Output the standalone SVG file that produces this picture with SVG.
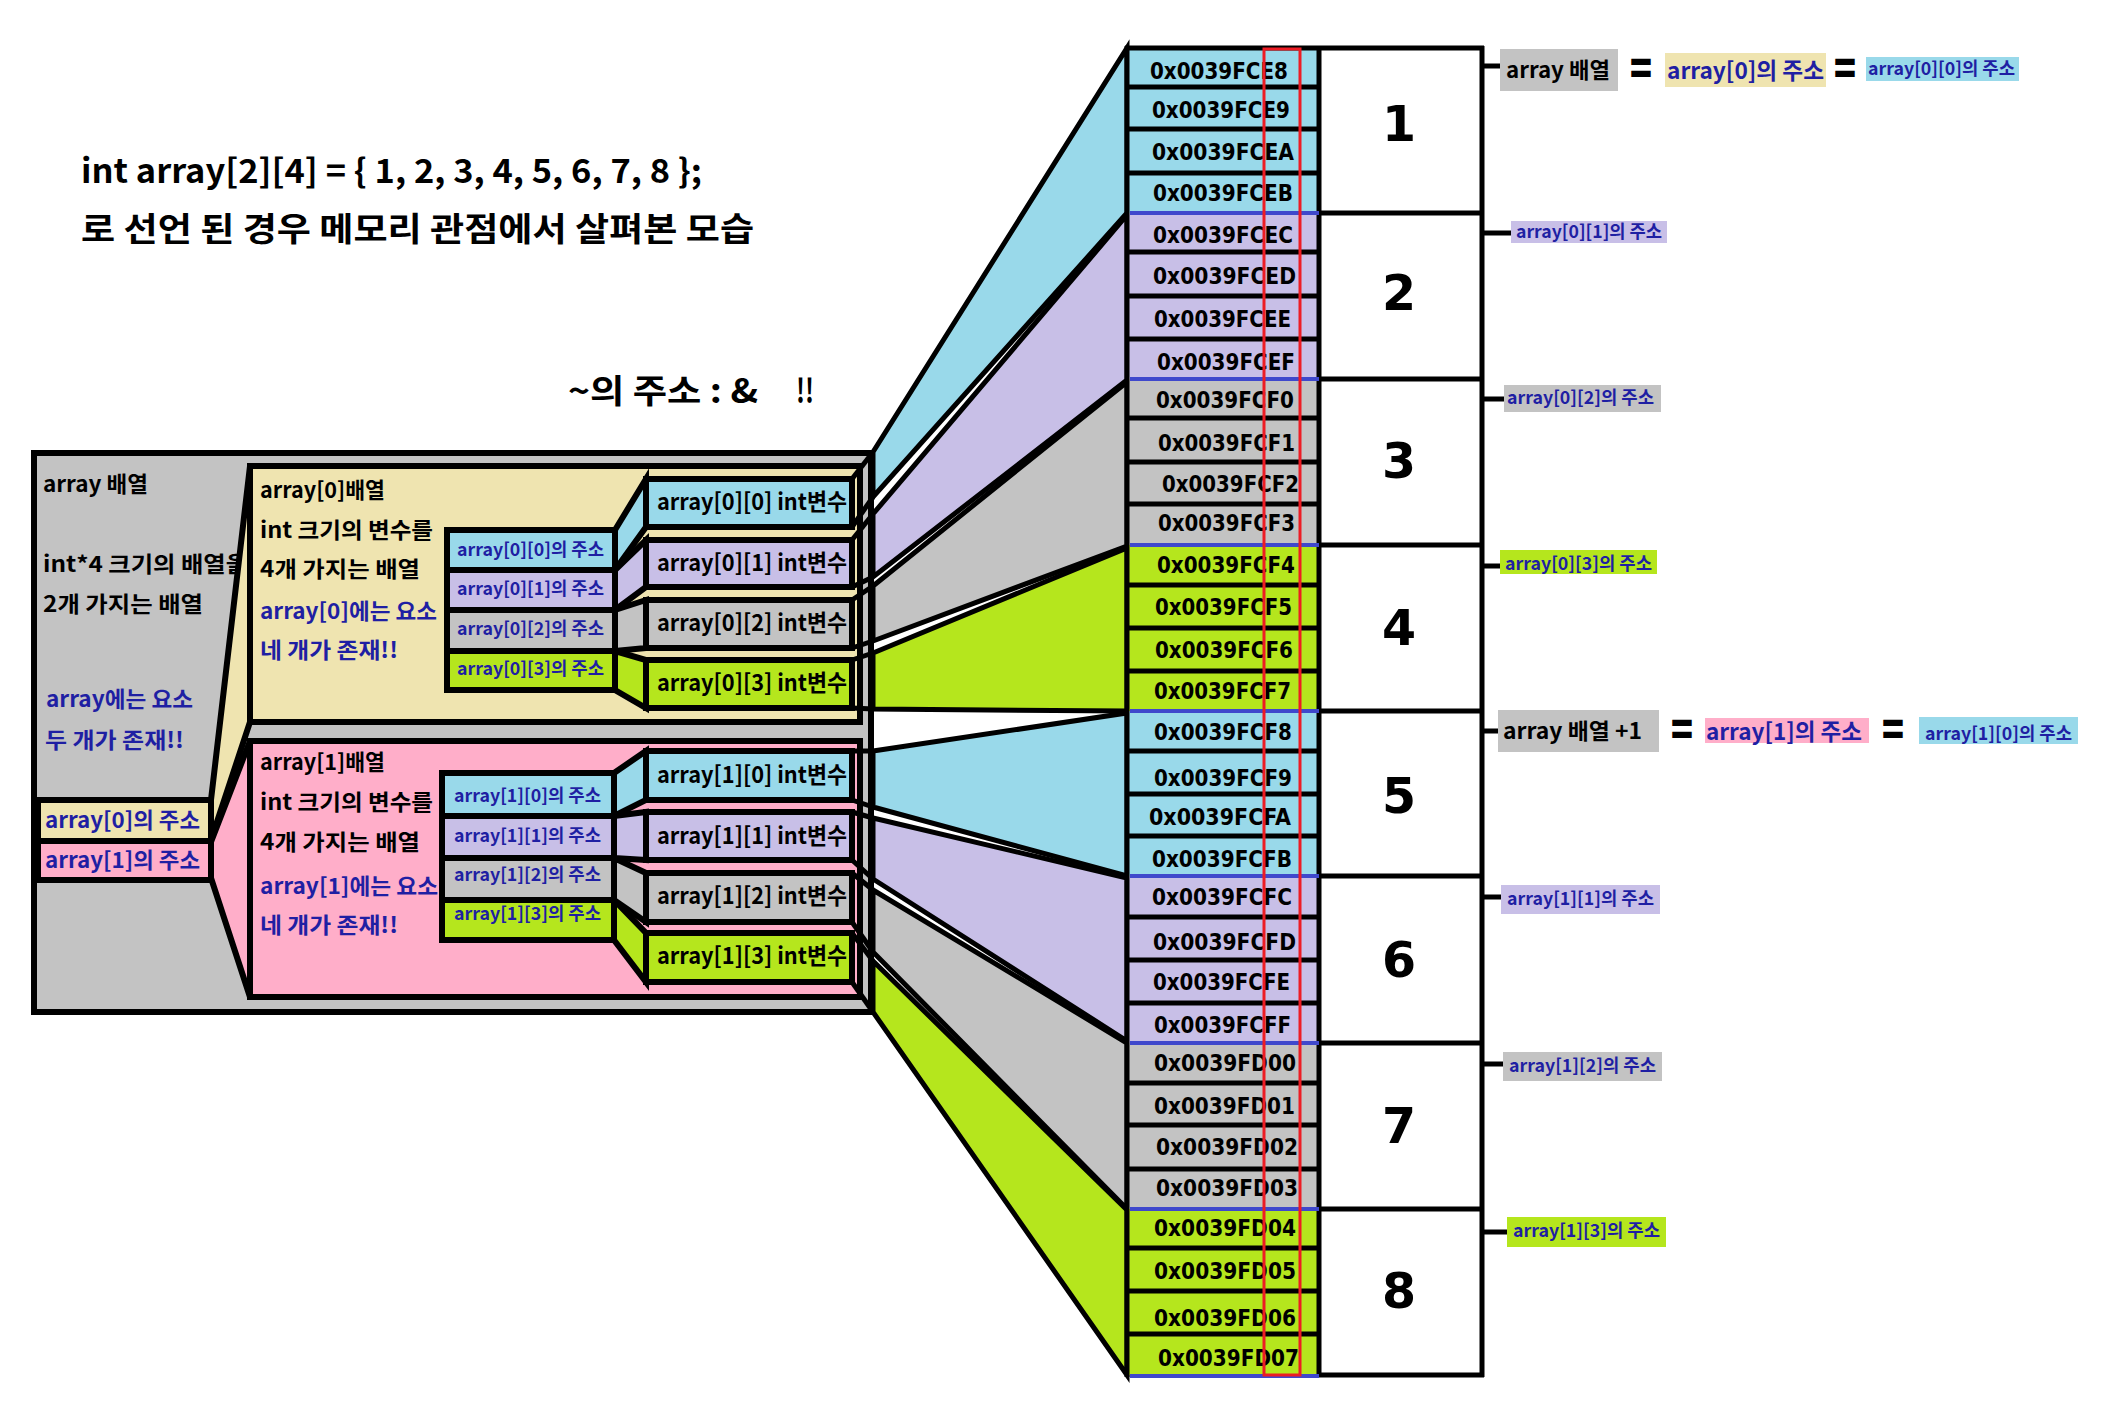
<svg xmlns="http://www.w3.org/2000/svg" width="2108" height="1406" viewBox="0 0 2108 1406">
<defs>
<style>
.k{font-family:"Noto Sans CJK KR","Noto Sans",sans-serif;font-weight:bold;fill:#000}
.b{fill:#1f1fa3}
.ad{font-family:"DejaVu Sans","Noto Sans",sans-serif;font-weight:bold;font-size:23px;fill:#000}
.num{font-family:"DejaVu Sans","Noto Sans",sans-serif;font-weight:bold;font-size:49px;fill:#000;text-anchor:middle}
.eq{font-family:"DejaVu Sans","Noto Sans",sans-serif;font-weight:bold;font-size:31px;fill:#000}
.o{stroke:#000;stroke-width:6;stroke-linejoin:miter}
.t{stroke:#000;stroke-width:5;fill:none}
.bl{stroke:#3f48cc;stroke-width:4;fill:none}
.cy{fill:#99d9ea}.lv{fill:#c8bfe7}.gy{fill:#c3c3c3}.gn{fill:#b5e61d}.bg{fill:#efe4b0}.pk{fill:#ffaec9}
.s17{font-size:17px}.s18{font-size:18px}.s22{font-size:22px}.s23{font-size:23px}.s33{font-size:33px}
</style>
</defs>
<rect x="0" y="0" width="2108" height="1406" fill="#fff"/>

<g id="title">
<text class="k s33" x="81" y="183" textLength="621" lengthAdjust="spacingAndGlyphs">int array[2][4]  =  { 1, 2, 3, 4, 5, 6, 7, 8 };</text>
<text class="k s33" x="81" y="241" textLength="673" lengthAdjust="spacingAndGlyphs">로 선언 된 경우 메모리 관점에서 살펴본 모습</text>
</g>
<g id="note">
<text class="k s33" x="568" y="403" textLength="190" lengthAdjust="spacingAndGlyphs">~의 주소 : &amp;</text>
<text class="k s33" x="796" y="403" textLength="18" lengthAdjust="spacingAndGlyphs">!!</text>
</g>

<g id="connectors">
<polygon class="t" points="873,452 1127,48 1127,213 873,497" style="fill:#99d9ea"/>
<polygon class="t" points="873,514 1127,215 1127,380 873,577" style="fill:#c8bfe7"/>
<polygon class="t" points="873,586 1127,382 1127,546 873,641" style="fill:#c3c3c3"/>
<polygon class="t" points="873,653 1127,548 1127,711 873,709" style="fill:#b5e61d"/>
<polygon class="t" points="873,751 1127,713 1127,876 873,807" style="fill:#99d9ea"/>
<polygon class="t" points="873,818 1127,878 1127,1041 873,879" style="fill:#c8bfe7"/>
<polygon class="t" points="873,890 1127,1043 1127,1209 873,952" style="fill:#c3c3c3"/>
<polygon class="t" points="873,961 1127,1210 1127,1375 873,1012" style="fill:#b5e61d"/>
<g class="t">
<line x1="1308" y1="66" x2="1500" y2="66"/>
<line x1="1308" y1="233" x2="1511" y2="233"/>
<line x1="1308" y1="399" x2="1504" y2="399"/>
<line x1="1312" y1="566" x2="1500" y2="566"/>
<line x1="1310" y1="731" x2="1498" y2="731"/>
<line x1="1307" y1="897" x2="1501" y2="897"/>
<line x1="1313" y1="1064" x2="1503" y2="1064"/>
<line x1="1308" y1="1232" x2="1507" y2="1232"/>
</g>
</g>

<g id="array-box">
<rect class="o gy" x="34" y="453" width="837" height="559"/>
<text class="k s22" x="43" y="492" textLength="105" lengthAdjust="spacingAndGlyphs">array 배열</text>
<text class="k s22" x="43" y="572" textLength="205" lengthAdjust="spacingAndGlyphs">int*4 크기의 배열을</text>
<text class="k s22" x="43" y="612" textLength="160" lengthAdjust="spacingAndGlyphs">2개 가지는 배열</text>
<text class="k s22 b" x="46" y="707" textLength="147" lengthAdjust="spacingAndGlyphs">array에는 요소</text>
<text class="k s22 b" x="45" y="748" textLength="139" lengthAdjust="spacingAndGlyphs">두 개가 존재!!</text>
</g>

<g id="array0-box">
<polygon class="o bg" points="250,466 211,800 211,840 250,722"/>
<rect class="o bg" x="250" y="466" width="610" height="256"/>
<text class="k s22" x="260" y="498" textLength="125" lengthAdjust="spacingAndGlyphs">array[0]배열</text>
<text class="k s22" x="260" y="538" textLength="173" lengthAdjust="spacingAndGlyphs">int 크기의 변수를</text>
<text class="k s22" x="260" y="577" textLength="160" lengthAdjust="spacingAndGlyphs">4개 가지는 배열</text>
<text class="k s22 b" x="260" y="619" textLength="177" lengthAdjust="spacingAndGlyphs">array[0]에는 요소</text>
<text class="k s22 b" x="260" y="658" textLength="138" lengthAdjust="spacingAndGlyphs">네 개가 존재!!</text>
</g>

<g id="array1-box">
<polygon class="o pk" points="250,741 211,842 211,878 250,997"/>
<rect class="o pk" x="250" y="741" width="610" height="256"/>
<text class="k s22" x="260" y="770" textLength="125" lengthAdjust="spacingAndGlyphs">array[1]배열</text>
<text class="k s22" x="260" y="810" textLength="173" lengthAdjust="spacingAndGlyphs">int 크기의 변수를</text>
<text class="k s22" x="260" y="850" textLength="160" lengthAdjust="spacingAndGlyphs">4개 가지는 배열</text>
<text class="k s22 b" x="260" y="894" textLength="178" lengthAdjust="spacingAndGlyphs">array[1]에는 요소</text>
<text class="k s22 b" x="260" y="933" textLength="138" lengthAdjust="spacingAndGlyphs">네 개가 존재!!</text>
</g>

<g id="array-addr">
<rect class="o bg" x="38" y="800" width="173" height="41"/>
<rect class="o pk" x="38" y="841" width="173" height="39"/>
<text class="k s22 b" x="45" y="828" textLength="155" lengthAdjust="spacingAndGlyphs">array[0]의 주소</text>
<text class="k s22 b" x="45" y="868" textLength="155" lengthAdjust="spacingAndGlyphs">array[1]의 주소</text>
</g>

<g id="array0-elements">
<polygon class="o cy" points="615,530 646,479 646,527 615,570"/>
<polygon class="o lv" points="615,570 646,540 646,587 615,610"/>
<polygon class="o gy" points="615,610 646,600 646,648 615,651"/>
<polygon class="o gn" points="615,651 646,660 646,708 615,690"/>
<rect class="o cy" x="447" y="530" width="168" height="40"/>
<rect class="o lv" x="447" y="570" width="168" height="40"/>
<rect class="o gy" x="447" y="610" width="168" height="41"/>
<rect class="o gn" x="447" y="651" width="168" height="39"/>
<text class="k s18 b" x="457" y="556" textLength="147" lengthAdjust="spacingAndGlyphs">array[0][0]의 주소</text>
<text class="k s18 b" x="457" y="595" textLength="147" lengthAdjust="spacingAndGlyphs">array[0][1]의 주소</text>
<text class="k s18 b" x="457" y="635" textLength="147" lengthAdjust="spacingAndGlyphs">array[0][2]의 주소</text>
<text class="k s18 b" x="457" y="675" textLength="147" lengthAdjust="spacingAndGlyphs">array[0][3]의 주소</text>
<rect class="o cy" x="646" y="479" width="206" height="48"/>
<rect class="o lv" x="646" y="540" width="206" height="47"/>
<rect class="o gy" x="646" y="600" width="206" height="48"/>
<rect class="o gn" x="646" y="660" width="206" height="48"/>
<text class="k s23" x="657" y="510" textLength="190" lengthAdjust="spacingAndGlyphs">array[0][0] int변수</text>
<text class="k s23" x="657" y="571" textLength="190" lengthAdjust="spacingAndGlyphs">array[0][1] int변수</text>
<text class="k s23" x="657" y="631" textLength="190" lengthAdjust="spacingAndGlyphs">array[0][2] int변수</text>
<text class="k s23" x="657" y="691" textLength="190" lengthAdjust="spacingAndGlyphs">array[0][3] int변수</text>
<g class="t">
<line x1="852" y1="479" x2="873" y2="452"/><line x1="852" y1="527" x2="873" y2="497"/>
<line x1="852" y1="540" x2="873" y2="514"/><line x1="852" y1="587" x2="873" y2="577"/>
<line x1="852" y1="600" x2="873" y2="586"/><line x1="852" y1="648" x2="873" y2="641"/>
<line x1="852" y1="660" x2="873" y2="653"/><line x1="852" y1="708" x2="873" y2="709"/>
</g>
</g>

<g id="array1-elements">
<polygon class="o cy" points="614,773 646,751 646,800 614,816"/>
<polygon class="o lv" points="614,816 646,812 646,860 614,858"/>
<polygon class="o gy" points="614,858 646,873 646,922 614,900"/>
<polygon class="o gn" points="614,900 646,933 646,982 614,940"/>
<rect class="o cy" x="442" y="773" width="172" height="43"/>
<rect class="o lv" x="442" y="816" width="172" height="42"/>
<rect class="o gy" x="442" y="858" width="172" height="42"/>
<rect class="o gn" x="442" y="900" width="172" height="40"/>
<text class="k s18 b" x="454" y="802" textLength="147" lengthAdjust="spacingAndGlyphs">array[1][0]의 주소</text>
<text class="k s18 b" x="454" y="842" textLength="147" lengthAdjust="spacingAndGlyphs">array[1][1]의 주소</text>
<text class="k s18 b" x="454" y="881" textLength="147" lengthAdjust="spacingAndGlyphs">array[1][2]의 주소</text>
<text class="k s18 b" x="454" y="920" textLength="147" lengthAdjust="spacingAndGlyphs">array[1][3]의 주소</text>
<rect class="o cy" x="646" y="751" width="206" height="49"/>
<rect class="o lv" x="646" y="812" width="206" height="48"/>
<rect class="o gy" x="646" y="873" width="206" height="49"/>
<rect class="o gn" x="646" y="933" width="206" height="49"/>
<text class="k s23" x="657" y="783" textLength="190" lengthAdjust="spacingAndGlyphs">array[1][0] int변수</text>
<text class="k s23" x="657" y="844" textLength="190" lengthAdjust="spacingAndGlyphs">array[1][1] int변수</text>
<text class="k s23" x="657" y="904" textLength="190" lengthAdjust="spacingAndGlyphs">array[1][2] int변수</text>
<text class="k s23" x="657" y="964" textLength="190" lengthAdjust="spacingAndGlyphs">array[1][3] int변수</text>
<g class="t">
<line x1="852" y1="751" x2="873" y2="751"/><line x1="852" y1="800" x2="873" y2="807"/>
<line x1="852" y1="812" x2="873" y2="818"/><line x1="852" y1="860" x2="873" y2="879"/>
<line x1="852" y1="873" x2="873" y2="890"/><line x1="852" y1="922" x2="873" y2="952"/>
<line x1="852" y1="933" x2="873" y2="961"/><line x1="852" y1="982" x2="873" y2="1012"/>
</g>
</g>

<g id="memory">
<rect class="cy" x="1127" y="48" width="192" height="165"/>
<rect class="lv" x="1127" y="213" width="192" height="166"/>
<rect class="gy" x="1127" y="379" width="192" height="166"/>
<rect class="gn" x="1127" y="545" width="192" height="166"/>
<rect class="cy" x="1127" y="711" width="192" height="165"/>
<rect class="lv" x="1127" y="876" width="192" height="167"/>
<rect class="gy" x="1127" y="1043" width="192" height="166"/>
<rect class="gn" x="1127" y="1209" width="192" height="166"/>
<rect x="1319" y="48" width="163" height="1327" fill="#fff"/>
<g class="t">
<line x1="1127" y1="87" x2="1319" y2="87"/><line x1="1127" y1="129" x2="1319" y2="129"/><line x1="1127" y1="173" x2="1319" y2="173"/>
<line x1="1127" y1="252" x2="1319" y2="252"/><line x1="1127" y1="296" x2="1319" y2="296"/><line x1="1127" y1="339" x2="1319" y2="339"/>
<line x1="1127" y1="418" x2="1319" y2="418"/><line x1="1127" y1="462" x2="1319" y2="462"/><line x1="1127" y1="504" x2="1319" y2="504"/>
<line x1="1127" y1="585" x2="1319" y2="585"/><line x1="1127" y1="628" x2="1319" y2="628"/><line x1="1127" y1="671" x2="1319" y2="671"/>
<line x1="1127" y1="751" x2="1319" y2="751"/><line x1="1127" y1="794" x2="1319" y2="794"/><line x1="1127" y1="836" x2="1319" y2="836"/>
<line x1="1127" y1="917" x2="1319" y2="917"/><line x1="1127" y1="960" x2="1319" y2="960"/><line x1="1127" y1="1003" x2="1319" y2="1003"/>
<line x1="1127" y1="1083" x2="1319" y2="1083"/><line x1="1127" y1="1125" x2="1319" y2="1125"/><line x1="1127" y1="1169" x2="1319" y2="1169"/>
<line x1="1127" y1="1248" x2="1319" y2="1248"/><line x1="1127" y1="1291" x2="1319" y2="1291"/><line x1="1127" y1="1334" x2="1319" y2="1334"/>
<line x1="1319" y1="213" x2="1482" y2="213"/><line x1="1319" y1="379" x2="1482" y2="379"/><line x1="1319" y1="545" x2="1482" y2="545"/>
<line x1="1319" y1="711" x2="1482" y2="711"/><line x1="1319" y1="876" x2="1482" y2="876"/><line x1="1319" y1="1043" x2="1482" y2="1043"/>
<line x1="1319" y1="1209" x2="1482" y2="1209"/>
<line x1="1125" y1="48" x2="1484" y2="48"/><line x1="1319" y1="1375" x2="1484" y2="1375"/>
<line x1="1127" y1="46" x2="1127" y2="1377"/><line x1="1319" y1="46" x2="1319" y2="1377"/><line x1="1482" y1="46" x2="1482" y2="1377"/>
</g>
<g class="bl">
<line x1="1130" y1="213" x2="1319" y2="213"/><line x1="1130" y1="379" x2="1319" y2="379"/><line x1="1130" y1="545" x2="1319" y2="545"/>
<line x1="1130" y1="711" x2="1319" y2="711"/><line x1="1130" y1="876" x2="1319" y2="876"/><line x1="1130" y1="1043" x2="1319" y2="1043"/>
<line x1="1130" y1="1209" x2="1319" y2="1209"/><line x1="1130" y1="1376" x2="1319" y2="1376"/>
</g>
<g class="ad">
<text x="1150" y="79" textLength="138" lengthAdjust="spacingAndGlyphs">0x0039FCE8</text>
<text x="1152" y="118" textLength="138" lengthAdjust="spacingAndGlyphs">0x0039FCE9</text>
<text x="1152" y="160" textLength="142" lengthAdjust="spacingAndGlyphs">0x0039FCEA</text>
<text x="1153" y="201" textLength="140" lengthAdjust="spacingAndGlyphs">0x0039FCEB</text>
<text x="1153" y="243" textLength="140" lengthAdjust="spacingAndGlyphs">0x0039FCEC</text>
<text x="1153" y="284" textLength="143" lengthAdjust="spacingAndGlyphs">0x0039FCED</text>
<text x="1154" y="327" textLength="137" lengthAdjust="spacingAndGlyphs">0x0039FCEE</text>
<text x="1157" y="370" textLength="138" lengthAdjust="spacingAndGlyphs">0x0039FCEF</text>
<text x="1156" y="408" textLength="138" lengthAdjust="spacingAndGlyphs">0x0039FCF0</text>
<text x="1158" y="451" textLength="137" lengthAdjust="spacingAndGlyphs">0x0039FCF1</text>
<text x="1162" y="492" textLength="137" lengthAdjust="spacingAndGlyphs">0x0039FCF2</text>
<text x="1158" y="531" textLength="137" lengthAdjust="spacingAndGlyphs">0x0039FCF3</text>
<text x="1157" y="573" textLength="138" lengthAdjust="spacingAndGlyphs">0x0039FCF4</text>
<text x="1155" y="615" textLength="137" lengthAdjust="spacingAndGlyphs">0x0039FCF5</text>
<text x="1155" y="658" textLength="138" lengthAdjust="spacingAndGlyphs">0x0039FCF6</text>
<text x="1154" y="699" textLength="137" lengthAdjust="spacingAndGlyphs">0x0039FCF7</text>
<text x="1154" y="740" textLength="138" lengthAdjust="spacingAndGlyphs">0x0039FCF8</text>
<text x="1154" y="786" textLength="138" lengthAdjust="spacingAndGlyphs">0x0039FCF9</text>
<text x="1149" y="825" textLength="142" lengthAdjust="spacingAndGlyphs">0x0039FCFA</text>
<text x="1152" y="867" textLength="140" lengthAdjust="spacingAndGlyphs">0x0039FCFB</text>
<text x="1152" y="905" textLength="140" lengthAdjust="spacingAndGlyphs">0x0039FCFC</text>
<text x="1153" y="950" textLength="143" lengthAdjust="spacingAndGlyphs">0x0039FCFD</text>
<text x="1153" y="990" textLength="137" lengthAdjust="spacingAndGlyphs">0x0039FCFE</text>
<text x="1154" y="1033" textLength="137" lengthAdjust="spacingAndGlyphs">0x0039FCFF</text>
<text x="1154" y="1071" textLength="142" lengthAdjust="spacingAndGlyphs">0x0039FD00</text>
<text x="1154" y="1114" textLength="141" lengthAdjust="spacingAndGlyphs">0x0039FD01</text>
<text x="1156" y="1155" textLength="142" lengthAdjust="spacingAndGlyphs">0x0039FD02</text>
<text x="1156" y="1196" textLength="142" lengthAdjust="spacingAndGlyphs">0x0039FD03</text>
<text x="1154" y="1236" textLength="142" lengthAdjust="spacingAndGlyphs">0x0039FD04</text>
<text x="1154" y="1279" textLength="142" lengthAdjust="spacingAndGlyphs">0x0039FD05</text>
<text x="1154" y="1326" textLength="142" lengthAdjust="spacingAndGlyphs">0x0039FD06</text>
<text x="1158" y="1366" textLength="141" lengthAdjust="spacingAndGlyphs">0x0039FD07</text>
</g>
<rect x="1264" y="49" width="36" height="1326" fill="none" stroke="#ed1c24" stroke-width="3"/>
<g class="num">
<text x="1399" y="141">1</text>
<text x="1399" y="310">2</text>
<text x="1399" y="478">3</text>
<text x="1399" y="645">4</text>
<text x="1399" y="813">5</text>
<text x="1399" y="977">6</text>
<text x="1399" y="1143">7</text>
<text x="1399" y="1308">8</text>
</g>
</g>

<g id="label-row0">
<rect class="gy" x="1500" y="49" width="118" height="42"/>
<text class="k s22" x="1506" y="78" textLength="104" lengthAdjust="spacingAndGlyphs">array 배열</text>
<text class="eq" transform="translate(1628,85) scale(1,1.7)" x="0" y="0">=</text>
<rect class="bg" x="1665" y="53" width="161" height="34"/>
<text class="k s23 b" x="1667" y="79" textLength="157" lengthAdjust="spacingAndGlyphs">array[0]의 주소</text>
<text class="eq" transform="translate(1832,85) scale(1,1.7)" x="0" y="0">=</text>
<rect class="cy" x="1866" y="57" width="153" height="24"/>
<text class="k s18 b" x="1868" y="75" textLength="147" lengthAdjust="spacingAndGlyphs">array[0][0]의 주소</text>
</g>
<g id="label-01">
<rect class="lv" x="1511" y="221" width="156" height="22"/>
<text class="k s18 b" x="1516" y="238" textLength="146" lengthAdjust="spacingAndGlyphs">array[0][1]의 주소</text>
</g>
<g id="label-02">
<rect class="gy" x="1504" y="385" width="157" height="27"/>
<text class="k s18 b" x="1507" y="404" textLength="147" lengthAdjust="spacingAndGlyphs">array[0][2]의 주소</text>
</g>
<g id="label-03">
<rect class="gn" x="1500" y="550" width="157" height="24"/>
<text class="k s18 b" x="1505" y="570" textLength="147" lengthAdjust="spacingAndGlyphs">array[0][3]의 주소</text>
</g>
<g id="label-row1">
<rect class="gy" x="1498" y="710" width="161" height="42"/>
<text class="k s22" x="1503" y="739" textLength="139" lengthAdjust="spacingAndGlyphs">array 배열 +1</text>
<text class="eq" transform="translate(1669,746) scale(1,1.7)" x="0" y="0">=</text>
<rect class="pk" x="1705" y="718" width="164" height="25"/>
<text class="k s23 b" x="1706" y="740" textLength="156" lengthAdjust="spacingAndGlyphs">array[1]의 주소</text>
<text class="eq" transform="translate(1880,746) scale(1,1.7)" x="0" y="0">=</text>
<rect class="cy" x="1919" y="717" width="159" height="27"/>
<text class="k s18 b" x="1925" y="740" textLength="147" lengthAdjust="spacingAndGlyphs">array[1][0]의 주소</text>
</g>
<g id="label-11">
<rect class="lv" x="1501" y="885" width="159" height="29"/>
<text class="k s18 b" x="1507" y="905" textLength="147" lengthAdjust="spacingAndGlyphs">array[1][1]의 주소</text>
</g>
<g id="label-12">
<rect class="gy" x="1503" y="1052" width="159" height="29"/>
<text class="k s18 b" x="1509" y="1072" textLength="147" lengthAdjust="spacingAndGlyphs">array[1][2]의 주소</text>
</g>
<g id="label-13">
<rect class="gn" x="1507" y="1217" width="159" height="30"/>
<text class="k s18 b" x="1513" y="1237" textLength="147" lengthAdjust="spacingAndGlyphs">array[1][3]의 주소</text>
</g>
</svg>
